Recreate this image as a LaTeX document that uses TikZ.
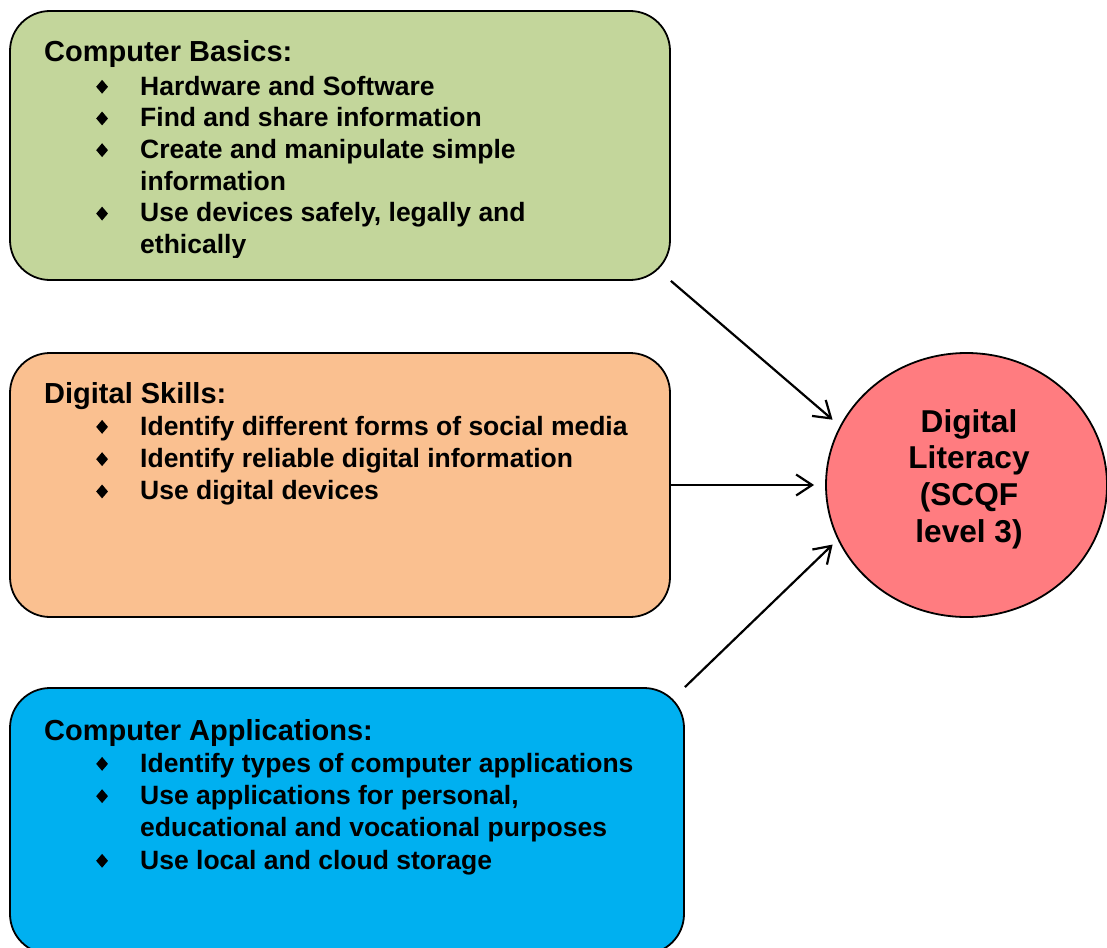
\documentclass[tikz,border=0pt]{standalone}
\usepackage{fontspec}
\setmainfont{Liberation Sans}
\usetikzlibrary{shapes.geometric,arrows.meta}
\definecolor{cbgreen}{HTML}{C3D69B}
\definecolor{dsorange}{HTML}{FAC090}
\definecolor{cablue}{HTML}{00B0F0}
\definecolor{dlred}{HTML}{FF7C80}
\newcommand\dia{\raisebox{1.5pt}{\scalebox{0.85}[1]{\rotatebox{45}{\rule{9.8pt}{9.8pt}}}}}
\newcommand\ttl[1]{\multicolumn{3}{@{}l@{}}{\fontsize{29}{31}\selectfont #1}}
\tikzset{
  box/.style={draw=black, line width=1.8pt, rounded corners=40pt, inner sep=0pt},
  boxtext/.style={anchor=base west, inner sep=0pt, font=\bfseries},
  arr/.style={draw=black, line width=2.2pt, -{Straight Barb[length=16pt,width=21pt,line width=2.2pt]}},
}
\begin{document}
\begin{tikzpicture}[x=1pt,y=-1pt]
\useasboundingbox (0,0) rectangle (1107,947);
\begin{scope}
\clip (0,0) rectangle (1107,947);
% boxes
\node[box, fill=cbgreen, minimum width=660pt, minimum height=269pt] (gb) at (340,145.5) {};
\node[box, fill=dsorange, minimum width=660pt, minimum height=264pt] (ob) at (340,485) {};
\node[box, fill=cablue, minimum width=674pt, minimum height=266pt] (bb) at (347,821) {};
\node[draw=black, line width=1.8pt, fill=dlred, ellipse, inner sep=0pt,
      minimum width=281pt, minimum height=264pt] (dl) at (966.5,485) {};
% texts
\begin{scope}
\clip (10,11) rectangle (670,257);
\node[boxtext] (gbt) at (44,62) {\fontsize{26.5}{31.7}\selectfont
\begin{tabular}[t]{@{}p{52pt}@{}p{44pt}@{}l@{}}
\ttl{Computer Basics:}\\[1.5pt]
& \dia & Hardware and Software\\
& \dia & Find and share information\\
& \dia & Create and manipulate simple\\
&      & information\\
& \dia & Use devices safely, legally and\\
&      & ethically
\end{tabular}};
\end{scope}
\node[boxtext] (obt) at (44,403) {\fontsize{26.5}{32.3}\selectfont
\begin{tabular}[t]{@{}p{52pt}@{}p{44pt}@{}l@{}}
\ttl{Digital Skills:}\\
& \dia & Identify different forms of social media\\
& \dia & Identify reliable digital information\\
& \dia & Use digital devices
\end{tabular}};
\node[boxtext] (bbt) at (44,740) {\fontsize{26.5}{32.3}\selectfont
\begin{tabular}[t]{@{}p{52pt}@{}p{44pt}@{}l@{}}
\ttl{Computer Applications:}\\
& \dia & Identify types of computer applications\\
& \dia & Use applications for personal,\\
&      & educational and vocational purposes\\
& \dia & Use local and cloud storage
\end{tabular}};
\node[anchor=base, inner sep=0pt, font=\bfseries] (dlt) at (969,432) {\fontsize{31.6}{36.7}\selectfont
\begin{tabular}[t]{@{}c@{}}
Digital\\
Literacy\\
(SCQF\\
level 3)
\end{tabular}};
% arrows
\draw[arr, shorten >=9.6pt] (gb.south east) -- (dl.155.8);
\draw[arr, shorten >=11pt] (ob.east) -- (dl.west);
\draw[arr, shorten >=7pt] (bb.north east) -- (dl.203.6);
\end{scope}
\end{tikzpicture}
\end{document}
